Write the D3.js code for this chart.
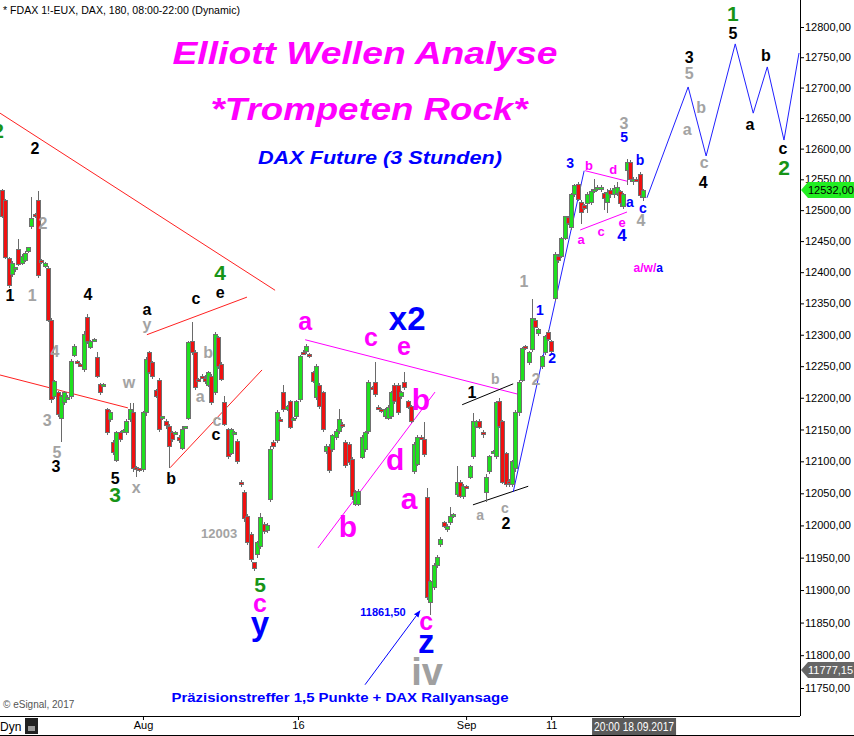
<!DOCTYPE html>
<html lang="de">
<head>
<meta charset="utf-8">
<title>Elliott Wellen Analyse - FDAX</title>
<script src="https://cdn.jsdelivr.net/npm/d3@7/dist/d3.min.js"></script>
<style>
  body { margin: 0; background: #fff; }
  svg { display: block; font-family: "Liberation Sans", Arial, sans-serif; }
</style>
</head>
<body>
<svg id="chart" width="854" height="736"></svg>
<script>
// 3-Stunden-Kerzen FDAX: [open, high, low, close]
const ohlc = [
  [12532,12535,12487,12490],[12515,12518,12421,12423],[12422,12424,12374,12379],[12397,12418,12393,12414],
  [12405,12409,12401,12407],[12436,12453,12410,12412],[12414,12430,12411,12426],[12419,12434,12416,12430],
  [12433,12441,12431,12439],[12474,12522,12470,12487],[12493,12495,12488,12490],[12516,12531,12390,12394],
  [12418,12421,12413,12416],[12409,12416,12406,12414],[12406,12410,12320,12323],[12323,12326,12192,12197],
  [12202,12228,12198,12225],[12208,12211,12169,12173],[12168,12205,12131,12202],[12192,12211,12189,12208],
  [12200,12204,12197,12201],[12202,12262,12198,12258],[12267,12285,12264,12281],[12257,12260,12253,12256],
  [12252,12255,12249,12251],[12245,12306,12240,12300],[12328,12333,12286,12289],[12280,12292,12277,12289],
  [12292,12295,12289,12293],[12263,12272,12231,12234],[12221,12223,12205,12208],[12220,12223,12218,12221],
  [12181,12184,12141,12145],[12165,12180,12162,12176],[12130,12133,12110,12114],[12102,12148,12099,12145],
  [12145,12148,12130,12134],[12148,12151,12145,12149],[12145,12166,12141,12162],[12166,12192,12162,12181],
  [12176,12192,12084,12088],[12091,12093,12075,12090],[12088,12090,12083,12085],[12087,12179,12084,12176],
  [12176,12264,12172,12260],[12272,12274,12237,12240],[12256,12259,12230,12234],[12212,12214,12200,12202],
  [12228,12232,12146,12150],[12168,12172,12165,12170],[12162,12166,12150,12156],[12155,12158,12090,12124],
  [12145,12148,12130,12134],[12144,12147,12141,12145],[12138,12142,12128,12132],[12120,12155,12117,12150],
  [12152,12156,12150,12154],[12168,12290,12165,12287],[12289,12320,12268,12272],[12272,12275,12212,12216],
  [12229,12232,12226,12228],[12234,12237,12230,12233],[12230,12236,12222,12226],[12220,12243,12217,12240],
  [12234,12237,12188,12192],[12208,12305,12205,12300],[12295,12298,12246,12250],[12253,12256,12226,12229],
  [12192,12202,12155,12158],[12150,12153,12104,12108],[12113,12153,12110,12150],[12145,12148,12142,12146],
  [12131,12135,12096,12100],[12067,12070,12060,12064],[12052,12055,12005,12010],[12014,12017,11970,11973],
  [11986,11990,11944,11947],[11942,11944,11929,11934],[11955,11976,11950,11973],[11967,12020,11963,12012],
  [12002,12005,11986,11990],[11992,12003,11988,12000],[12040,12124,12037,12119],[12130,12133,12120,12124],
  [12132,12180,12128,12176],[12166,12169,12162,12165],[12208,12220,12178,12181],[12182,12188,12179,12186],
  [12194,12197,12150,12153],[12167,12170,12164,12168],[12170,12197,12166,12194],[12197,12268,12194,12265],
  [12272,12275,12268,12271],[12274,12285,12270,12281],[12268,12271,12263,12265],[12240,12243,12223,12226],
  [12200,12254,12196,12250],[12220,12223,12183,12186],[12208,12211,12146,12150],[12115,12127,12112,12123],
  [12123,12127,12081,12085],[12119,12143,12115,12140],[12138,12150,12134,12147],[12147,12182,12143,12165],
  [12158,12162,12152,12155],[12130,12133,12089,12093],[12127,12130,12095,12098],[12103,12106,12040,12045],
  [12033,12055,12030,12052],[12033,12057,12030,12053],[12106,12142,12103,12138],[12119,12147,12115,12145],
  [12147,12228,12143,12224],[12216,12219,12213,12215],[12224,12256,12201,12205],[12185,12188,12182,12184],
  [12181,12184,12176,12180],[12170,12184,12166,12181],[12168,12188,12165,12184],[12170,12211,12166,12208],
  [12220,12223,12190,12194],[12220,12224,12173,12176],[12202,12210,12198,12208],[12224,12240,12212,12216],
  [12194,12197,12182,12185],[12186,12189,12160,12162],[12084,12130,12080,12126],[12095,12142,12092,12138],
  [12138,12141,12134,12137],[12134,12162,12107,12110],[12044,12058,11884,11889],[11881,11915,11861.5,11913],
  [11904,11942,11900,11938],[11938,11954,11934,11950],[11970,11982,11966,11978],[12004,12007,11996,11998],
  [11994,12002,11990,11998],[12004,12028,12000,12014],[12016,12019,12012,12017],[12048,12092,12045,12067],
  [12067,12070,12042,12045],[12045,12064,12041,12061],[12060,12063,12057,12059],[12075,12095,12072,12092],
  [12107,12176,12104,12162],[12155,12165,12152,12162],[12162,12166,12150,12153],[12146,12149,12136,12145],
  [12051,12080,12036,12075],[12084,12110,12080,12107],[12114,12117,12111,12115],[12107,12195,12104,12192],
  [12194,12199,12152,12155],[12162,12165,12064,12067],[12112,12115,12060,12064],[12069,12072,12060,12066],
  [12064,12102,12060,12099],[12088,12180,12084,12176],[12176,12228,12172,12224],[12228,12280,12225,12278],
  [12281,12284,12275,12278],[12256,12274,12252,12271],[12276,12357,12272,12326],[12323,12326,12310,12312],
  [12302,12310,12298,12308],[12250,12268,12246,12265],[12272,12300,12268,12297],[12304,12307,12290,12293],
  [12289,12292,12270,12273],[12358,12433,12354,12429],[12426,12430,12415,12419],[12426,12456,12422,12455],
  [12455,12490,12451,12489],[12488,12491,12476,12479],[12472,12528,12468,12525],[12526,12543,12522,12540],
  [12542,12545,12515,12518],[12513,12516,12478,12497],[12507,12510,12500,12503],[12510,12530,12495,12525],
  [12513,12535,12509,12531],[12533,12550,12528,12534],[12535,12540,12531,12537],[12536,12541,12530,12536],
  [12527,12530,12500,12519],[12513,12535,12495,12529],[12532,12536,12520,12525],[12525,12540,12520,12535],
  [12527,12545,12523,12537],[12530,12533,12505,12510],[12506,12528,12502,12525],[12565,12583,12540,12578],
  [12578,12581,12545,12550],[12546,12553,12540,12550],[12550,12553,12545,12549],[12558,12562,12520,12524],
  [12521,12535,12515,12532]
];

// Datumsachse (Kerzen-Index)
const dateTicks = [[43.1, "Aug"], [90.5, "16"], [141.9, "Sep"], [167.9, "11"], [189.9, ""]];
const priceTicks = d3.range(11750, 12801, 50);
const lastPrice = 12532;
const lowMarker = 11777.15;

// Prognose (Index, Kurs)
const projection = [[197.2, 12520], [209.8, 12701], [215.3, 12588], [224.2, 12772],
                    [229.7, 12658], [234, 12734], [239.1, 12614], [243.7, 12757]];

// Trendlinien: [i1, p1, i2, p2, farbe]
const trendLines = [
  [-0.6, 12658, 83.5, 12371, "red"], [-0.6, 12236, 38.5, 12184, "red"],
  [44.3, 12300, 74.9, 12360, "red"], [51.4, 12090, 79.5, 12244, "red"],
  [92.7, 12292, 159, 12204, "magenta"], [96.6, 11965, 132.4, 12209, "magenta"],
  [178.3, 12564, 191.1, 12547, "magenta"], [176.8, 12468, 191.1, 12497, "magenta"],
  [140.7, 12189, 156.3, 12222, "black"], [144, 12032, 160.9, 12061, "black"],
  [156.3, 12052, 178, 12564, "blue"]
];
const arrowLine = [111, 11755, 127.8, 11868];

// Wellen-Beschriftung: [text, index, kurs, typ]
const waveLabels = [
  ["2",-1.2,12630,"G"],["2",10.1,12601,"k"],["1",2.4,12363,"k"],["1",9.2,12363,"g"],["2",12.5,12479,"g"],
  ["4",26.3,12365,"k"],["4",16.2,12274,"g"],["3",13.8,12165,"g"],["5",16.8,12115,"g"],["3",16.5,12093,"k"],
  ["w",38.8,12225,"g"],["a",44.3,12340,"k"],["y",44.3,12316,"g"],["c",59.3,12359,"k"],["e",66.7,12368,"k"],
  ["4",66.7,12399,"G"],["b",63,12272,"g"],["a",60.6,12203,"g"],["c",65.7,12165,"g"],["c",65.4,12143,"k"],
  ["5",34.6,12074,"k"],["3",34.6,12049,"G"],["x",41,12060,"g"],["b",51.7,12074,"k"],
  ["5",78.9,11908,"G"],["c",78.9,11880,"M"],["y",78.9,11849,"B"],
  ["a",92.7,12322,"M"],["c",112.8,12296,"M"],["x2",123.9,12327,"B"],["e",122.9,12282,"M"],
  ["b",128.1,12198,"ML"],["d",120.2,12104,"ML"],["a",124.5,12043,"ML"],["b",105.8,11999,"ML"],
  ["c",129.7,11852,"M"],["z",129.7,11822,"B"],["iv",130,11776,"V"],
  ["1",143.7,12209,"k"],["b",150.8,12229,"gs"],["a",146.2,12016,"gs"],["c",153.8,12027,"gs"],["2",154.1,12004,"k"],
  ["1",159.6,12386,"g"],["1",164.5,12340,"b"],["2",163.3,12230,"g"],["2",168.2,12263,"b"],
  ["3",173.7,12577,"b"],["b",179.5,12573,"m"],["d",186.9,12567,"m"],["3",190.2,12642,"g"],["5",190.2,12619,"b"],
  ["b",195.1,12582,"b"],["a",192,12513,"b"],["c",196,12504,"b"],["4",195.4,12484,"g"],
  ["a",177.1,12453,"m"],["c",183.2,12466,"m"],["e",189.6,12481,"m"],["4",189.6,12460,"bL"],
  ["1",223.5,12823,"G"],["5",223.5,12790,"k"],["3",210.1,12750,"k"],["5",210.1,12724,"g"],["b",213.8,12668,"g"],
  ["a",209.5,12632,"g"],["c",214.7,12577,"g"],["4",214.4,12546,"k"],["b",233.6,12754,"k"],["a",228.7,12640,"k"],
  ["c",238.8,12601,"k"],["2",239.1,12570,"G"]
];

const labelStyle = {
  k: ["#000", 16], g: ["#a3a3a3", 16], gs: ["#a3a3a3", 14], G: ["#179417", 21],
  m: ["#ff00ff", 13], M: ["#ff00ff", 25], ML: ["#ff00ff", 30],
  b: ["#0000ff", 14], bL: ["#0000ff", 17], B: ["#0000ff", 33], V: ["#a0a0a0", 38]
};
const lineColor = { red: "#ff2020", magenta: "#ff00ff", black: "#000", blue: "#2020ff" };

const svg = d3.select("#chart");
const plotRight = 800, plotBottom = 716;
const x = d3.scaleLinear().domain([0, 244]).range([2, 800]);
const y = d3.scaleLog().domain([11750, 12800]).range([688, 27]);
const fmt = v => d3.format(".2f")(v).replace(".", ",");

svg.append("rect").attr("width", 854).attr("height", 736).attr("fill", "#fff");
svg.append("defs").append("clipPath").attr("id", "plot")
  .append("rect").attr("width", plotRight).attr("height", plotBottom);
svg.select("defs").append("marker").attr("id", "arr")
  .attr("viewBox", "0 0 10 10").attr("refX", 9).attr("refY", 5)
  .attr("markerWidth", 7).attr("markerHeight", 7).attr("orient", "auto")
  .append("path").attr("d", "M0,1L10,5L0,9z").attr("fill", "#0000ff");

const plot = svg.append("g").attr("clip-path", "url(#plot)");

// Titel
const title = svg.append("g").attr("font-weight", "bold").attr("font-style", "italic").attr("text-anchor", "middle");
title.append("text").attr("x", 365).attr("y", 64).attr("font-size", 31).attr("fill", "#ff00ff")
  .attr("textLength", 385).attr("lengthAdjust", "spacingAndGlyphs").text("Elliott Wellen Analyse");
title.append("text").attr("x", 369).attr("y", 120).attr("font-size", 31).attr("fill", "#ff00ff")
  .attr("textLength", 317).attr("lengthAdjust", "spacingAndGlyphs").text("*Trompeten Rock*");
title.append("text").attr("x", 380).attr("y", 164).attr("font-size", 18).attr("fill", "#0000ff")
  .attr("textLength", 244).attr("lengthAdjust", "spacingAndGlyphs").text("DAX Future (3 Stunden)");

svg.append("text").attr("x", 3).attr("y", 14).attr("font-size", 11).attr("fill", "#000")
  .attr("textLength", 237).attr("lengthAdjust", "spacingAndGlyphs")
  .text("* FDAX 1!-EUX, DAX, 180, 08:00-22:00 (Dynamic)");

// Trendlinien
plot.append("g").selectAll("line").data(trendLines).join("line")
  .attr("x1", d => x(d[0])).attr("y1", d => y(d[1]))
  .attr("x2", d => x(d[2])).attr("y2", d => y(d[3]))
  .attr("stroke", d => lineColor[d[4]]).attr("stroke-width", 1);

// Kerzen
const candles = plot.append("g").attr("shape-rendering", "crispEdges");
candles.selectAll("line").data(ohlc).join("line")
  .attr("x1", (d, i) => Math.round(x(i)) + 0.5).attr("x2", (d, i) => Math.round(x(i)) + 0.5)
  .attr("y1", d => y(d[1])).attr("y2", d => y(d[2]))
  .attr("stroke", "#6a6a6a");
candles.selectAll("rect").data(ohlc).join("rect")
  .attr("x", (d, i) => Math.round(x(i)) - 1.5).attr("width", 4)
  .attr("y", d => y(Math.max(d[0], d[3])))
  .attr("height", d => Math.max(2, Math.abs(y(d[0]) - y(d[3]))))
  .attr("fill", d => d[3] >= d[0] ? "#1ee01e" : "#f01010")
  .attr("stroke", "#707070").attr("stroke-width", 1);

// Prognose
plot.append("path").datum(projection)
  .attr("d", d3.line().x(d => x(d[0])).y(d => y(d[1])))
  .attr("fill", "none").attr("stroke", "#2020ff").attr("stroke-width", 1);

// Pfeil
plot.append("line")
  .attr("x1", x(arrowLine[0])).attr("y1", y(arrowLine[1]))
  .attr("x2", x(arrowLine[2])).attr("y2", y(arrowLine[3]))
  .attr("stroke", "#0000ff").attr("marker-end", "url(#arr)");

// Wellen-Labels
svg.append("g").attr("font-weight", "bold").attr("text-anchor", "middle")
  .selectAll("text").data(waveLabels).join("text")
  .attr("x", d => x(d[1])).attr("y", d => y(d[2]))
  .attr("dy", "0.36em")
  .attr("fill", d => labelStyle[d[3]][0]).attr("font-size", d => labelStyle[d[3]][1])
  .text(d => d[0]);

const aw = svg.append("text").attr("x", x(197.6)).attr("y", y(12407)).attr("dy", "0.36em")
  .attr("text-anchor", "middle").attr("font-weight", "bold").attr("font-size", 12);
aw.append("tspan").attr("fill", "#ff00ff").text("a/w/");
aw.append("tspan").attr("fill", "#0000ff").text("a");

svg.append("text").attr("x", x(116.5)).attr("y", y(11866)).attr("dy", "0.36em")
  .attr("text-anchor", "middle").attr("font-weight", "bold").attr("font-size", 11)
  .attr("fill", "#0000ff").text("11861,50");
svg.append("text").attr("x", x(66.4)).attr("y", y(11988)).attr("dy", "0.36em")
  .attr("text-anchor", "middle").attr("font-weight", "bold").attr("font-size", 13)
  .attr("fill", "#a3a3a3").text("12003");

svg.append("text").attr("x", 340).attr("y", 702).attr("text-anchor", "middle")
  .attr("font-weight", "bold").attr("font-size", 13).attr("fill", "#0000ff")
  .attr("textLength", 337).attr("lengthAdjust", "spacingAndGlyphs")
  .text("Präzisionstreffer 1,5 Punkte + DAX Rallyansage");
svg.append("text").attr("x", 3).attr("y", 708).attr("font-size", 10).attr("fill", "#555")
  .text("© eSignal, 2017");

// Achsen
svg.append("line").attr("x1", plotRight + 0.5).attr("x2", plotRight + 0.5).attr("y1", 0).attr("y2", plotBottom)
  .attr("stroke", "#000");
svg.append("line").attr("x1", 0).attr("x2", plotRight).attr("y1", plotBottom + 0.5).attr("y2", plotBottom + 0.5)
  .attr("stroke", "#000");
svg.append("line").attr("x1", 0).attr("x2", 854).attr("y1", 735.5).attr("y2", 735.5).attr("stroke", "#000");

const yAxis = svg.append("g").attr("transform", `translate(${plotRight},0)`)
  .call(d3.axisRight(y).tickValues(priceTicks).tickFormat(fmt).tickSize(4).tickPadding(1));
yAxis.select(".domain").remove();
yAxis.selectAll("text").attr("font-size", 11).attr("font-family", "Liberation Sans, Arial, sans-serif");

const xAxis = svg.append("g").attr("transform", `translate(0,${plotBottom})`)
  .call(d3.axisBottom(x).tickValues(dateTicks.map(d => d[0]))
    .tickFormat((d, i) => dateTicks[i][1]).tickSize(4).tickPadding(1));
xAxis.select(".domain").remove();
xAxis.selectAll("text").attr("font-size", 11).attr("font-family", "Liberation Sans, Arial, sans-serif");

// Kursmarken
function badge(v, fill, color) {
  const yy = Math.round(y(v));
  const g = svg.append("g");
  g.append("path").attr("d", `M801,${yy}L808,${yy - 8}L854,${yy - 8}L854,${yy + 8}L808,${yy + 8}Z`)
    .attr("fill", fill);
  g.append("text").attr("x", 808).attr("y", yy).attr("dy", "0.36em").attr("font-size", 11)
    .attr("fill", color).text(fmt(v));
}
badge(lastPrice, "#22ee22", "#000");
badge(lowMarker, "#666", "#fff");

// Fusszeile
svg.append("text").attr("x", 0).attr("y", 731).attr("font-size", 12).attr("fill", "#000").text("Dyn");
svg.append("rect").attr("x", 25).attr("y", 718).attr("width", 13).attr("height", 16).attr("fill", "#222");
svg.append("rect").attr("x", 28).attr("y", 726).attr("width", 7).attr("height", 5).attr("fill", "#999");
const dateX = x(dateTicks[4][0]) + 11;
svg.append("rect").attr("x", dateX - 42).attr("y", 718).attr("width", 84).attr("height", 17).attr("fill", "#5a5a5a");
svg.append("text").attr("x", dateX).attr("y", 731).attr("text-anchor", "middle").attr("font-size", 12)
  .attr("fill", "#fff").attr("textLength", 80).attr("lengthAdjust", "spacingAndGlyphs").text("20:00 18.09.2017");
</script>
</body>
</html>
